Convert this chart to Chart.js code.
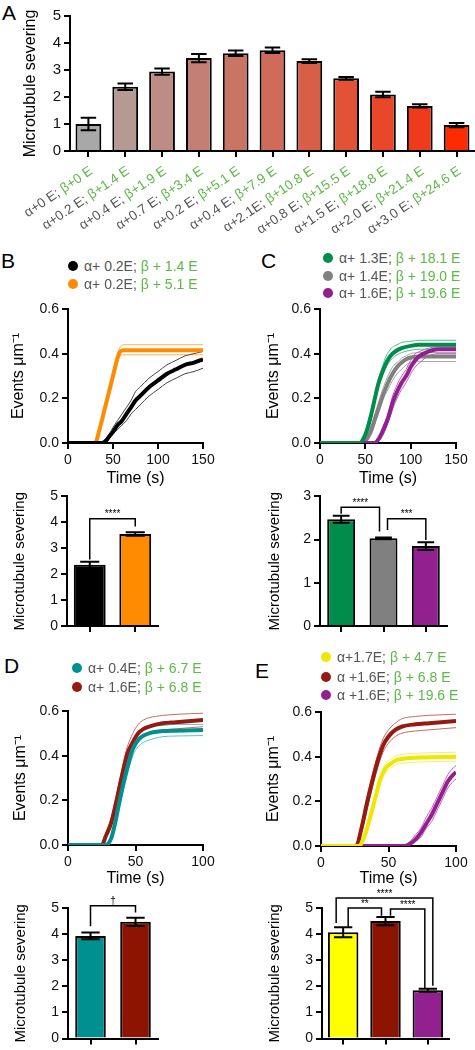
<!DOCTYPE html>
<html lang="en">
<head>
<meta charset="UTF-8">
<title>Microtubule severing</title>
<script src="https://cdn.jsdelivr.net/npm/chart.js"></script>
<style>
  body { margin: 0; background: #fff; }
  #fig { position: relative; width: 475px; height: 1050px; overflow: hidden; font-family: "Liberation Sans", Arial, sans-serif; }
  #fig canvas { position: absolute; }
  .letter { position: absolute; font-size: 21px; line-height: 1; color: #000; }
  .leg { position: absolute; display: flex; align-items: center; height: 18px; font-size: 14px; white-space: nowrap; }
  .leg .dot { width: 10px; height: 10px; border-radius: 50%; margin-right: 6px; }
  .leg .a { color: #555; margin-right: 4px; }
  .leg .b { color: #5cb946; }
</style>
</head>
<body>
<div id="fig">
  <div class="letter" style="left:2px;top:2px">A</div>
  <div class="letter" style="left:1px;top:250px">B</div>
  <div class="letter" style="left:261px;top:250px">C</div>
  <div class="letter" style="left:4px;top:655px">D</div>
  <div class="letter" style="left:255px;top:660px">E</div>
</div>
<script>
const FONT = '"Liberation Sans", Arial, sans-serif';
const GREY_TXT = '#555555';
const GREEN_TXT = '#5cb946';

// ---- Panel A ----
const aAlpha = ['α+0 E;', 'α+0.2 E;', 'α+0.4 E;', 'α+0.7 E;', 'α+0.2 E;', 'α+0.4 E;', 'α+2.1E;', 'α+0.8 E;', 'α+1.5 E;', 'α+2.0 E;', 'α+3.0 E;'];
const aBeta = ['β+0 E', 'β+1.4 E', 'β+1.9 E', 'β+3.4 E', 'β+5.1 E', 'β+7.9 E', 'β+10.8 E', 'β+15.5 E', 'β+18.8 E', 'β+21.4 E', 'β+24.6 E'];
const aMean = [1.0, 2.38, 2.94, 3.44, 3.62, 3.73, 3.33, 2.69, 2.09, 1.67, 0.96];
const aSem = [0.23, 0.12, 0.12, 0.15, 0.1, 0.1, 0.07, 0.05, 0.1, 0.06, 0.08];
const aColors = ['#a8a8a8', '#b59a94', '#bd8c84', '#c47f74', '#c97566', '#d06b59', '#d95e48', '#e25235', '#e84729', '#ef3b1c', '#fe2a00'];

// ---- Panel B ----
const bNames = [['α+ 0.2E;', 'β + 1.4 E'], ['α+ 0.2E;', 'β + 5.1 E']];
const bColors = ['#000000', '#ff8c00'];
const bSemColors = ['#444444', '#ffb24f'];
const bTime1 = [0, 38, 42, 46, 50, 55, 60, 65, 70, 75, 80, 90, 100, 110, 120, 130, 140, 150];
const bMean1 = [0, 0, 0.01, 0.03, 0.05, 0.08, 0.1, 0.13, 0.16, 0.19, 0.21, 0.25, 0.28, 0.31, 0.33, 0.35, 0.36, 0.375];
const bHi1 = [0, 0, 0.02, 0.04, 0.07, 0.1, 0.13, 0.16, 0.19, 0.23, 0.25, 0.29, 0.32, 0.35, 0.37, 0.39, 0.4, 0.41];
const bLo1 = [0, 0, 0, 0.02, 0.04, 0.06, 0.08, 0.1, 0.13, 0.15, 0.17, 0.21, 0.24, 0.27, 0.29, 0.31, 0.32, 0.335];
const bTime2 = [0, 30, 35, 40, 45, 50, 55, 58, 62, 70, 100, 150];
const bMean2 = [0, 0, 0.06, 0.14, 0.22, 0.3, 0.38, 0.41, 0.415, 0.415, 0.415, 0.415];
const bHi2 = [0, 0, 0.07, 0.15, 0.24, 0.32, 0.4, 0.43, 0.44, 0.44, 0.44, 0.44];
const bLo2 = [0, 0, 0.05, 0.12, 0.2, 0.28, 0.36, 0.39, 0.395, 0.395, 0.395, 0.395];
const bBar = [2.36, 3.55];
const bBarSem = [0.12, 0.07];

// ---- Panel C ----
const cNames = [['α+ 1.3E;', 'β + 18.1 E'], ['α+ 1.4E;', 'β + 19.0 E'], ['α+ 1.6E;', 'β + 19.6 E']];
const cColors = ['#008c4a', '#808080', '#92208f'];
const cSemColors = ['#4fc383', '#a8a8a8', '#c060bd'];
const cTime1 = [0, 44, 48, 52, 56, 60, 64, 68, 72, 76, 80, 85, 90, 100, 110, 150];
const cMean1 = [0, 0, 0.02, 0.06, 0.12, 0.19, 0.26, 0.31, 0.35, 0.38, 0.4, 0.415, 0.425, 0.435, 0.44, 0.44];
const cHi1 = [0, 0, 0.03, 0.08, 0.14, 0.21, 0.28, 0.33, 0.38, 0.41, 0.43, 0.44, 0.45, 0.455, 0.46, 0.46];
const cLo1 = [0, 0, 0.01, 0.05, 0.1, 0.17, 0.24, 0.29, 0.33, 0.36, 0.38, 0.395, 0.405, 0.415, 0.42, 0.42];
const cTime2 = [0, 48, 52, 56, 60, 65, 70, 75, 80, 85, 90, 95, 100, 110, 150];
const cMean2 = [0, 0, 0.02, 0.05, 0.1, 0.16, 0.22, 0.27, 0.31, 0.34, 0.36, 0.375, 0.383, 0.387, 0.387];
const cHi2 = [0, 0, 0.03, 0.07, 0.12, 0.19, 0.25, 0.3, 0.34, 0.36, 0.38, 0.39, 0.4, 0.405, 0.405];
const cLo2 = [0, 0, 0.01, 0.04, 0.08, 0.14, 0.2, 0.24, 0.28, 0.31, 0.33, 0.35, 0.36, 0.365, 0.365];
const cTime3 = [0, 60, 65, 70, 75, 80, 85, 90, 95, 100, 105, 110, 120, 130, 150];
const cMean3 = [0, 0, 0.02, 0.06, 0.11, 0.18, 0.23, 0.27, 0.3, 0.34, 0.37, 0.39, 0.41, 0.42, 0.42];
const cHi3 = [0, 0, 0.03, 0.08, 0.13, 0.21, 0.26, 0.3, 0.33, 0.37, 0.4, 0.41, 0.425, 0.43, 0.43];
const cLo3 = [0, 0, 0.01, 0.04, 0.09, 0.15, 0.2, 0.24, 0.27, 0.31, 0.34, 0.36, 0.39, 0.4, 0.4];
const cBar = [2.47, 2.03, 1.85];
const cBarSem = [0.08, 0.02, 0.09];

// ---- Panel D ----
const dNames = [['α+ 0.4E;', 'β + 6.7 E'], ['α+ 1.6E;', 'β + 6.8 E']];
const dColors = ['#009090', '#951a12'];
const dSemColors = ['#5cc4c4', '#c86a62'];
const dTime1 = [0, 28, 32, 35, 38, 42, 45, 48, 52, 56, 60, 70, 80, 100];
const dMean1 = [0, 0, 0.03, 0.1, 0.19, 0.3, 0.37, 0.43, 0.47, 0.49, 0.5, 0.51, 0.512, 0.515];
const dHi1 = [0, 0, 0.04, 0.12, 0.21, 0.33, 0.4, 0.46, 0.5, 0.52, 0.53, 0.535, 0.54, 0.54];
const dLo1 = [0, 0, 0.02, 0.08, 0.17, 0.27, 0.34, 0.4, 0.44, 0.46, 0.47, 0.485, 0.488, 0.49];
const dTime2 = [0, 25, 28, 32, 36, 40, 44, 48, 52, 56, 60, 70, 80, 100];
const dMean2 = [0, 0, 0.04, 0.1, 0.2, 0.31, 0.41, 0.46, 0.5, 0.52, 0.53, 0.545, 0.55, 0.56];
const dHi2 = [0, 0, 0.05, 0.12, 0.23, 0.34, 0.44, 0.5, 0.54, 0.56, 0.57, 0.58, 0.585, 0.59];
const dLo2 = [0, 0, 0.03, 0.08, 0.17, 0.28, 0.38, 0.43, 0.46, 0.49, 0.5, 0.515, 0.52, 0.53];
const dBar = [3.93, 4.47];
const dBarSem = [0.13, 0.16];

// ---- Panel E ----
const eNames = [['α+1.7E;', 'β + 4.7 E'], ['α +1.6E;', 'β + 6.8 E'], ['α +1.6E;', 'β + 19.6 E']];
const eColors = ['#f0e600', '#951a12', '#92208f'];
const eSemColors = ['#f7ee6a', '#c86a62', '#c060bd'];
const eTime1 = [0, 28, 32, 36, 40, 44, 48, 52, 56, 60, 70, 100];
const eMean1 = [0, 0, 0.04, 0.12, 0.21, 0.3, 0.35, 0.37, 0.385, 0.39, 0.395, 0.4];
const eHi1 = [0, 0, 0.05, 0.14, 0.23, 0.32, 0.37, 0.39, 0.405, 0.41, 0.415, 0.42];
const eLo1 = [0, 0, 0.03, 0.1, 0.19, 0.28, 0.33, 0.35, 0.365, 0.37, 0.375, 0.38];
const eTime2 = [0, 26, 30, 34, 38, 42, 46, 50, 55, 60, 70, 80, 100];
const eMean2 = [0, 0, 0.08, 0.19, 0.29, 0.38, 0.45, 0.49, 0.52, 0.535, 0.545, 0.55, 0.56];
const eHi2 = [0, 0, 0.1, 0.22, 0.32, 0.41, 0.48, 0.52, 0.55, 0.57, 0.58, 0.585, 0.59];
const eLo2 = [0, 0, 0.06, 0.16, 0.26, 0.35, 0.42, 0.46, 0.49, 0.505, 0.515, 0.52, 0.53];
const eTime3 = [0, 62, 66, 70, 74, 78, 82, 86, 90, 94, 98, 100];
const eMean3 = [0, 0, 0.01, 0.03, 0.06, 0.1, 0.14, 0.19, 0.24, 0.29, 0.32, 0.33];
const eHi3 = [0, 0, 0.02, 0.05, 0.08, 0.13, 0.17, 0.22, 0.27, 0.32, 0.35, 0.36];
const eLo3 = [0, 0, 0.005, 0.02, 0.04, 0.08, 0.11, 0.16, 0.21, 0.26, 0.29, 0.3];
const eBar = [4.07, 4.5, 1.85];
const eBarSem = [0.19, 0.16, 0.06];

const fig = document.getElementById('fig');

// error bars, significance brackets and two-colour tick labels
const extras = {
  id: 'extras',
  afterDatasetsDraw(chart, args, opts) {
    const ctx = chart.ctx, x = chart.scales.x, y = chart.scales.y;
    if (opts.errors) {
      const meta = chart.getDatasetMeta(0);
      const vals = chart.data.datasets[0].data;
      ctx.save();
      ctx.strokeStyle = '#000';
      ctx.lineWidth = 2;
      meta.data.forEach((bar, i) => {
        const w = bar.width * 0.6;
        const yh = y.getPixelForValue(vals[i] + opts.errors[i]);
        const yl = y.getPixelForValue(vals[i] - opts.errors[i]);
        ctx.beginPath();
        ctx.moveTo(bar.x, yh); ctx.lineTo(bar.x, yl);
        ctx.moveTo(bar.x - w / 2, yh); ctx.lineTo(bar.x + w / 2, yh);
        ctx.moveTo(bar.x - w / 2, yl); ctx.lineTo(bar.x + w / 2, yl);
        ctx.stroke();
      });
      ctx.restore();
    }
  },
  afterDraw(chart, args, opts) {
    const ctx = chart.ctx, x = chart.scales.x, y = chart.scales.y;
    (opts.brackets || []).forEach(b => {
      const xa = x.getPixelForValue(b.from) + b.dxFrom;
      const xb = x.getPixelForValue(b.to) + b.dxTo;
      const yt = y.getPixelForValue(b.top);
      ctx.save();
      ctx.strokeStyle = '#000';
      ctx.lineWidth = 1.5;
      ctx.beginPath();
      ctx.moveTo(xa, y.getPixelForValue(b.endFrom));
      ctx.lineTo(xa, yt);
      ctx.lineTo(xb, yt);
      ctx.lineTo(xb, y.getPixelForValue(b.endTo));
      ctx.stroke();
      ctx.fillStyle = '#000';
      ctx.font = '10px ' + FONT;
      ctx.textAlign = 'center';
      ctx.textBaseline = 'alphabetic';
      ctx.fillText(b.text, (xa + xb) / 2, yt - 1.5);
      ctx.restore();
    });
    if (opts.tickAlpha) {
      ctx.save();
      ctx.font = '13.5px ' + FONT;
      ctx.textAlign = 'right';
      ctx.textBaseline = 'middle';
      opts.tickAlpha.forEach((a, i) => {
        const px = x.getPixelForTick(i);
        ctx.save();
        ctx.translate(px + 3, x.top + 19);
        ctx.rotate(-34 * Math.PI / 180);
        ctx.fillStyle = GREEN_TXT;
        ctx.fillText(opts.tickBeta[i], 0, 0);
        const w = ctx.measureText(opts.tickBeta[i]).width;
        ctx.fillStyle = GREY_TXT;
        ctx.fillText(a + ' ', -w, 0);
        ctx.restore();
      });
      ctx.restore();
    }
  }
};
Chart.register(extras);

function axisBase(size) {
  return {
    border: { display: true, color: '#000', width: 2 },
    grid: { display: true, drawOnChartArea: false, drawTicks: true, tickLength: 6, color: '#000', lineWidth: 2, offset: false },
    ticks: { color: '#111', font: { family: FONT, size: size }, padding: 3, maxRotation: 0, autoSkip: false }
  };
}

function makeChart(g, config) {
  const c = document.createElement('canvas');
  c.width = g.cw; c.height = g.ch;
  c.style.left = g.cl + 'px';
  c.style.top = g.ct + 'px';
  fig.appendChild(c);
  config.options.responsive = false;
  config.options.animation = false;
  config.options.layout = { padding: { top: g.pt - g.ct, right: g.cl + g.cw - g.pr, left: 0, bottom: 0 } };
  config.options.scales.x.afterFit = s => { s.height = g.ct + g.ch - g.pb; };
  config.options.scales.y.afterFit = s => { s.width = g.pl - g.cl; };
  return new Chart(c, config);
}

function curve(time, mean, hi, lo, color, semColor) {
  const pts = arr => time.map((t, i) => ({ x: t, y: arr[i] }));
  return [
    { data: pts(mean), borderColor: color, borderWidth: 4, pointRadius: 0, order: 0 },
    { data: pts(hi), borderColor: semColor, borderWidth: 1, pointRadius: 0, order: 1 },
    { data: pts(lo), borderColor: semColor, borderWidth: 1, pointRadius: 0, order: 1 }
  ];
}

function lineChart(g, curves, xMax, titlePad) {
  const xs = axisBase(14), ys = axisBase(14);
  return makeChart(g, {
    type: 'line',
    data: { datasets: curves.flat() },
    options: {
      plugins: { legend: { display: false }, tooltip: { enabled: false } },
      elements: { line: { cubicInterpolationMode: 'monotone', fill: false } },
      scales: {
        x: Object.assign(xs, {
          type: 'linear', min: 0, max: xMax,
          ticks: Object.assign(xs.ticks, { stepSize: 50 }),
          title: { display: true, text: 'Time (s)', color: '#000', font: { family: FONT, size: 16 }, padding: { top: 0, bottom: 2 } }
        }),
        y: Object.assign(ys, {
          min: 0, max: 0.6,
          ticks: Object.assign(ys.ticks, { stepSize: 0.2, callback: v => v.toFixed(1) }),
          title: { display: true, text: 'Events μm⁻¹', color: '#000', font: { family: FONT, size: 16 }, padding: { top: titlePad, bottom: 0 } }
        })
      }
    }
  });
}

function barChart(g, values, sems, colors, yMax, barPct, titleSize, titlePad, tickSize, extra) {
  const xs = axisBase(tickSize), ys = axisBase(tickSize);
  return makeChart(g, {
    type: 'bar',
    data: {
      labels: values.map((v, i) => String(i)),
      datasets: [{ data: values, backgroundColor: colors, borderColor: '#000', borderWidth: 2, barPercentage: barPct, categoryPercentage: 1 }]
    },
    options: {
      plugins: { legend: { display: false }, tooltip: { enabled: false }, extras: Object.assign({ errors: sems }, extra) },
      scales: {
        x: Object.assign(xs, { ticks: Object.assign(xs.ticks, { display: false }) }),
        y: Object.assign(ys, {
          min: 0, max: yMax,
          ticks: Object.assign(ys.ticks, { stepSize: 1 }),
          title: { display: true, text: 'Microtubule severing', color: '#000', font: { family: FONT, size: titleSize }, padding: { top: titlePad, bottom: 0 } }
        })
      }
    }
  });
}

function legend(left, centers, names, colors) {
  names.forEach((n, i) => {
    const row = document.createElement('div');
    row.className = 'leg';
    row.style.left = left + 'px';
    row.style.top = (centers[i] - 9) + 'px';
    row.innerHTML = '<span class="dot" style="background:' + colors[i] + '"></span><span class="a">' + n[0] + '</span><span class="b">' + n[1] + '</span>';
    fig.appendChild(row);
  });
}

// Panel A
barChart({ cl: 0, ct: 0, cw: 475, ch: 240, pl: 70, pt: 16, pr: 475, pb: 151 },
  aMean, aSem, aColors, 5, 0.7, 16, 21, 15, { tickAlpha: aAlpha, tickBeta: aBeta });

// Panel B
lineChart({ cl: 0, ct: 290, cw: 225, ch: 200, pl: 68, pt: 309, pr: 203, pb: 443 }, [
  curve(bTime1, bMean1, bHi1, bLo1, bColors[0], bSemColors[0]),
  curve(bTime2, bMean2, bHi2, bLo2, bColors[1], bSemColors[1])
], 150, 9);
barChart({ cl: 0, ct: 485, cw: 175, ch: 160, pl: 67, pt: 492, pr: 158, pb: 626 },
  bBar, bBarSem, bColors, 5, 0.7, 15, 11, 14,
  { brackets: [{ from: 0, to: 1, dxFrom: 0, dxTo: 0, top: 4.14, endFrom: 2.57, endTo: 3.84, text: '****' }] });
legend(68, [266, 284], bNames, bColors);

// Panel C
lineChart({ cl: 250, ct: 290, cw: 225, ch: 200, pl: 320, pt: 309, pr: 456, pb: 443 }, [
  curve(cTime1, cMean1, cHi1, cLo1, cColors[0], cSemColors[0]),
  curve(cTime3, cMean3, cHi3, cLo3, cColors[2], cSemColors[2]),
  curve(cTime2, cMean2, cHi2, cLo2, cColors[1], cSemColors[1])
], 150, 14);
barChart({ cl: 250, ct: 485, cw: 215, ch: 160, pl: 320, pt: 492, pr: 447, pb: 626 },
  cBar, cBarSem, cColors, 3, 0.66, 15, 16, 14,
  { brackets: [
    { from: 0, to: 1, dxFrom: 0, dxTo: -4, top: 2.75, endFrom: 2.6, endTo: 2.19, text: '****' },
    { from: 1, to: 2, dxFrom: 4, dxTo: 0, top: 2.48, endFrom: 2.22, endTo: 1.99, text: '***' }
  ] });
legend(323, [258, 276, 293], cNames, cColors);

// Panel D
lineChart({ cl: 0, ct: 690, cw: 225, ch: 200, pl: 68, pt: 711, pr: 203, pb: 845 }, [
  curve(dTime1, dMean1, dHi1, dLo1, dColors[0], dSemColors[0]),
  curve(dTime2, dMean2, dHi2, dLo2, dColors[1], dSemColors[1])
], 100, 11);
barChart({ cl: 0, ct: 885, cw: 175, ch: 165, pl: 68, pt: 908, pr: 158, pb: 1040 },
  dBar, dBarSem, ['#009090', '#8c1400'], 5, 0.68, 15, 12, 14,
  { brackets: [{ from: 0, to: 1, dxFrom: 0, dxTo: 0, top: 5.09, endFrom: 4.3, endTo: 4.83, text: '†' }] });
legend(72, [668, 687], dNames, dColors);

// Panel E
lineChart({ cl: 250, ct: 690, cw: 225, ch: 200, pl: 321, pt: 712, pr: 456, pb: 846 }, [
  curve(eTime1, eMean1, eHi1, eLo1, eColors[0], eSemColors[0]),
  curve(eTime2, eMean2, eHi2, eLo2, eColors[1], eSemColors[1]),
  curve(eTime3, eMean3, eHi3, eLo3, eColors[2], eSemColors[2])
], 100, 14);
barChart({ cl: 250, ct: 880, cw: 215, ch: 170, pl: 322, pt: 908, pr: 449, pb: 1040 },
  eBar, eBarSem, ['#ffff00', '#8c1400', '#92208f'], 5, 0.72, 15, 16, 14,
  { brackets: [
    { from: 0, to: 2, dxFrom: -7, dxTo: 5, top: 5.38, endFrom: 4.43, endTo: 2.02, text: '****' },
    { from: 0, to: 1, dxFrom: 5, dxTo: -4, top: 5.0, endFrom: 4.28, endTo: 4.7, text: '**' },
    { from: 1, to: 2, dxFrom: 5, dxTo: -3, top: 4.96, endFrom: 4.7, endTo: 1.9, text: '****' }
  ] });
legend(321, [657, 677, 695], eNames, ['#f0e600', '#951a12', '#92208f']);
</script>
</body>
</html>
